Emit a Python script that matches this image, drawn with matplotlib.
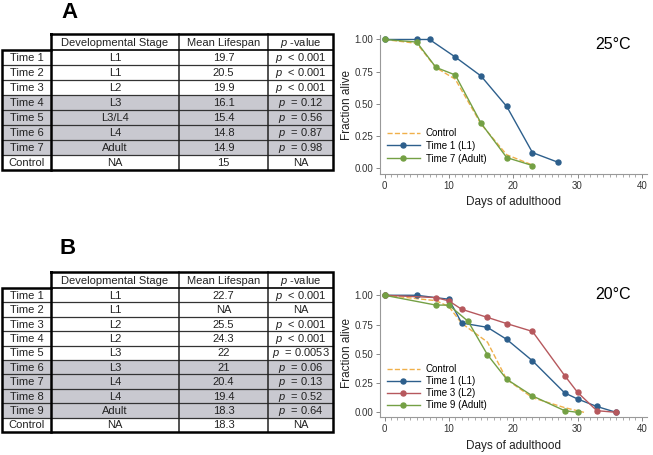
import matplotlib
matplotlib.use("Agg")
import matplotlib.pyplot as plt
from matplotlib.patches import Rectangle
from matplotlib.ticker import MultipleLocator

plt.rcParams["font.family"] = ["Liberation Sans", "DejaVu Sans"]
plt.rcParams["mathtext.fontset"] = "custom"
plt.rcParams["mathtext.it"] = "Liberation Sans:italic"
plt.rcParams["mathtext.rm"] = "Liberation Sans"

BLUE = "#2d5f8c"
RED = "#b6585d"
GREEN = "#74a044"
ORANGE = "#f0b04a"
SHADE = "#c9c9d0"

# ---- table data ----
header = ["Developmental Stage", "Mean Lifespan", "$p$ -value"]

rows_a = ["Time 1", "Time 2", "Time 3", "Time 4", "Time 5", "Time 6", "Time 7", "Control"]
stage_a = ["L1", "L1", "L2", "L3", "L3/L4", "L4", "Adult", "NA"]
life_a = ["19.7", "20.5", "19.9", "16.1", "15.4", "14.8", "14.9", "15"]
pval_a = ["$p$  < 0.001", "$p$  < 0.001", "$p$  < 0.001", "$p$  = 0.12", "$p$  = 0.56",
          "$p$  = 0.87", "$p$  = 0.98", "NA"]
shaded_a = [False, False, False, True, True, True, True, False]

rows_b = ["Time 1", "Time 2", "Time 3", "Time 4", "Time 5", "Time 6", "Time 7", "Time 8",
          "Time 9", "Control"]
stage_b = ["L1", "L1", "L2", "L2", "L3", "L3", "L4", "L4", "Adult", "NA"]
life_b = ["22.7", "NA", "25.5", "24.3", "22", "21", "20.4", "19.4", "18.3", "18.3"]
pval_b = ["$p$  < 0.001", "NA", "$p$  < 0.001", "$p$  < 0.001", "$p$  = 0.0053",
          "$p$  = 0.06", "$p$  = 0.13", "$p$  = 0.52", "$p$  = 0.64", "NA"]
shaded_b = [False, False, False, False, False, True, True, True, True, False]

# ---- survival data ----
a_t1_days = [0, 5, 7, 11, 15, 19, 23, 27]
a_t1 = [1.0, 1.0, 1.0, 0.863, 0.715, 0.477, 0.117, 0.041]
a_t7_days = [0, 5, 8, 11, 15, 19, 23]
a_t7 = [1.0, 0.98, 0.782, 0.723, 0.347, 0.078, 0.016]
a_ctl_days = [0, 5, 8, 11, 15, 19, 23]
a_ctl = [1.0, 0.97, 0.78, 0.69, 0.34, 0.10, 0.02]

b_t1_days = [0, 5, 10, 12, 16, 19, 23, 28, 30, 33, 36]
b_t1 = [1.0, 1.0, 0.966, 0.763, 0.726, 0.623, 0.44, 0.166, 0.114, 0.05, 0.0]
b_t3_days = [0, 8, 10, 12, 16, 19, 23, 28, 30, 33, 36]
b_t3 = [1.0, 0.98, 0.952, 0.88, 0.811, 0.758, 0.691, 0.314, 0.171, 0.014, 0.0]
b_t9_days = [0, 8, 10, 13, 16, 19, 23, 28, 30]
b_t9 = [1.0, 0.916, 0.916, 0.777, 0.492, 0.282, 0.14, 0.014, 0.0]
b_ctl_days = [0, 8, 10, 12, 16, 19, 23, 28, 31]
b_ctl = [1.0, 0.954, 0.903, 0.76, 0.6, 0.28, 0.125, 0.04, 0.0]

W, H = 653, 455
fig = plt.figure(figsize=(W / 100, H / 100), dpi=100)

# overlay axes in pixel coordinates for tables and panel letters
tab = fig.add_axes([0, 0, 1, 1])
tab.set_xlim(0, W)
tab.set_ylim(H, 0)
tab.axis("off")

COLS = [2, 51, 179, 268, 333]


def draw_table(top, head_h, row_h, rows, stage, life, pval, shaded):
    n = len(rows)
    body_top = top + head_h
    bottom = body_top + n * row_h
    # shading
    for i, s in enumerate(shaded):
        if s:
            tab.add_patch(Rectangle((COLS[0], body_top + i * row_h), COLS[-1] - COLS[0], row_h,
                                    facecolor=SHADE, edgecolor="none", zorder=1))
    # header text
    for j, h in enumerate(header):
        tab.text((COLS[j + 1] + COLS[j + 2]) / 2, top + head_h / 2 + 0.5, h,
                 ha="center", va="center", fontsize=8, color="#222222", zorder=3)
    # body text
    for i in range(n):
        yc = body_top + (i + 0.5) * row_h + 0.5
        for j, val in enumerate([rows[i], stage[i], life[i], pval[i]]):
            tab.text((COLS[j] + COLS[j + 1]) / 2, yc, val, ha="center", va="center",
                     fontsize=8, color="#222222", zorder=3)
    # inner horizontal lines
    for i in range(1, n):
        y = body_top + i * row_h
        tab.plot([COLS[0], COLS[-1]], [y, y], color="#333333", lw=0.9, zorder=2)
    # vertical lines
    for x in COLS[2:-1]:
        tab.plot([x, x], [top, bottom], color="#222222", lw=1.1, zorder=2)
    # outer thick border
    lw = 1.8
    tab.plot([COLS[1], COLS[-1], COLS[-1], COLS[0], COLS[0], COLS[1], COLS[1]],
             [top, top, bottom, bottom, body_top, body_top, top],
             color="black", lw=lw, zorder=4, solid_joinstyle="miter")
    tab.plot([COLS[1], COLS[1]], [body_top, bottom], color="black", lw=lw, zorder=4)
    tab.plot([COLS[1], COLS[-1]], [body_top, body_top], color="black", lw=1.2, zorder=4)


draw_table(34, 16, 15.0, rows_a, stage_a, life_a, pval_a, shaded_a)
draw_table(272, 16, 14.4, rows_b, stage_b, life_b, pval_b, shaded_b)

tab.text(70, 13, "A", fontsize=16, fontweight="bold", ha="center", va="center")
tab.text(68, 249, "B", fontsize=16, fontweight="bold", ha="center", va="center")


def style_axes(ax, ylim):
    ax.set_xlim(-0.7, 40.8)
    ax.set_ylim(*ylim)
    for s in ["top", "right"]:
        ax.spines[s].set_visible(False)
    for s in ["left", "bottom"]:
        ax.spines[s].set_color("#999999")
        ax.spines[s].set_linewidth(0.8)
    ax.set_xticks([0, 10, 20, 30, 40])
    ax.xaxis.set_minor_locator(MultipleLocator(1))
    ax.set_yticks([0, 0.25, 0.5, 0.75, 1.0])
    ax.set_yticklabels(["0.00", "0.25", "0.50", "0.75", "1.00"])
    ax.tick_params(axis="both", which="major", labelsize=7, length=3, width=0.7,
                   colors="#888888", labelcolor="#333333", pad=2)
    ax.tick_params(axis="x", which="minor", length=1.8, width=0.5, colors="#888888")
    ax.set_xlabel("Days of adulthood", fontsize=8.5, color="#222222", labelpad=4)
    ax.set_ylabel("Fraction alive", fontsize=8.5, color="#222222", labelpad=1)


mk = dict(marker="o", markersize=3.6, lw=1.0)

ax_a = fig.add_axes([380 / W, 1 - 174 / H, 267 / W, 139 / H])
style_axes(ax_a, (-0.05, 1.035))
ax_a.plot(a_ctl_days, a_ctl, color=ORANGE, ls="--", lw=1.0, label="Control")
ax_a.plot(a_t1_days, a_t1, color=BLUE, label="Time 1 (L1)", **mk)
ax_a.plot(a_t7_days, a_t7, color=GREEN, label="Time 7 (Adult)", **mk)
ax_a.text(0.94, 0.935, "25°C", transform=ax_a.transAxes, fontsize=11.5, ha="right", va="center")
ax_a.legend(loc="lower left", bbox_to_anchor=(0.0, 0.025), frameon=False, fontsize=7,
            handlelength=3.4, handletextpad=0.6, labelspacing=0.29, borderaxespad=0.3)

ax_b = fig.add_axes([380 / W, 1 - 417 / H, 267 / W, 127 / H])
style_axes(ax_b, (-0.04, 1.045))
ax_b.plot(b_ctl_days, b_ctl, color=ORANGE, ls="--", lw=1.0, label="Control")
ax_b.plot(b_t1_days, b_t1, color=BLUE, label="Time 1 (L1)", **mk)
ax_b.plot(b_t3_days, b_t3, color=RED, label="Time 3 (L2)", **mk)
ax_b.plot(b_t9_days, b_t9, color=GREEN, label="Time 9 (Adult)", **mk)
ax_b.text(0.94, 0.965, "20°C", transform=ax_b.transAxes, fontsize=11.5, ha="right", va="center")
ax_b.legend(loc="lower left", bbox_to_anchor=(0.0, 0.0), frameon=False, fontsize=7,
            handlelength=3.4, handletextpad=0.6, labelspacing=0.2, borderaxespad=0.3)

fig.savefig("out.png", dpi=100, facecolor="white")
